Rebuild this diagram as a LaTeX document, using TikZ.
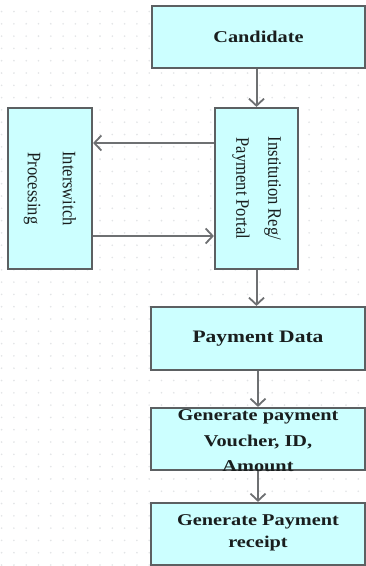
\documentclass[tikz,border=0pt]{standalone}
\usepackage{fontspec}
\setmainfont{Liberation Serif}
\usetikzlibrary{arrows.meta}
\definecolor{boxfill}{RGB}{204,255,255}
\definecolor{boxline}{RGB}{92,96,98}
\definecolor{arrowc}{RGB}{110,112,114}
\definecolor{txt}{RGB}{25,30,30}
\definecolor{dotc}{RGB}{226,228,230}
\tikzset{
  stepbox/.style={draw=boxline, fill=boxfill, line width=2.2pt, rectangle, inner sep=0pt},
  flow/.style={draw=arrowc, line width=2pt, -{Straight Barb[length=7pt,width=15pt,line width=1.8pt]}},
  boldtxt/.style={text=txt, align=center, inner sep=0pt},
  rottxt/.style={text=txt, align=center, inner sep=0pt, rotate=-90},
}
\newcommand{\wideb}[1]{\scalebox{1.23}[1]{\bfseries #1}}
\newcommand{\narrowr}[1]{\scalebox{0.87}[1]{#1}}
\begin{document}
\begin{tikzpicture}[x=1pt,y=-1pt]
\useasboundingbox (0,0) rectangle (366,566);
\fill[white] (0,0) rectangle (366,566);
% background dots
\foreach \i in {0,...,29} {
  \foreach \j in {0,...,46} {
    \fill[dotc] ({1.6+12.3*\i},{11.5+12.3*\j}) circle (0.9pt);
  }
}
% boxes
\node[stepbox, minimum width=213pt, minimum height=62pt] (cand) at (258.5,37) {};
\node[stepbox, minimum width=83pt, minimum height=161pt] (inst) at (256.5,188.5) {};
\node[stepbox, minimum width=84pt, minimum height=161pt] (isw) at (50,188.5) {};
\node[stepbox, minimum width=214pt, minimum height=63pt] (pay) at (258,338.5) {};
\node[stepbox, minimum width=214pt, minimum height=62pt] (vouch) at (258,439) {};
\node[stepbox, minimum width=214pt, minimum height=62pt] (rcpt) at (258,534) {};
% texts
\node[boldtxt, font=\fontsize{16.5}{20}\selectfont] (candt) at (cand.center) {\wideb{Candidate}};
\node[rottxt, font=\fontsize{19}{32}\selectfont] (instt) at (inst.center) {\narrowr{Institution Reg/}\\\narrowr{Payment Portal}};
\node[rottxt, font=\fontsize{19}{35}\selectfont] (iswt) at (isw.center) {\narrowr{Interswitch}\\\narrowr{Processing}};
\node[boldtxt, font=\fontsize{17.5}{20}\selectfont] (payt) at (pay.center) {\wideb{Payment Data}};
\node[boldtxt, font=\fontsize{16.5}{25.5}\selectfont] (voucht) at (258,441) {\wideb{Generate payment}\\\wideb{Voucher, ID,}\\\wideb{Amount}};
\node[boldtxt, font=\fontsize{16.5}{22}\selectfont] (rcptt) at (258,533) {\wideb{Generate Payment}\\\wideb{receipt}};
% connectors
\draw[flow] (cand.south -| inst.north) -- (inst.north);
\draw[flow] (inst.west |- 0,143) -- (isw.east |- 0,143);
\draw[flow] (isw.east |- 0,236) -- (inst.west |- 0,236);
\draw[flow] (inst.south) -- (inst.south |- pay.north);
\draw[flow] (pay.south) -- (vouch.north);
\draw[flow] (vouch.south) -- (rcpt.north);
\end{tikzpicture}
\end{document}
